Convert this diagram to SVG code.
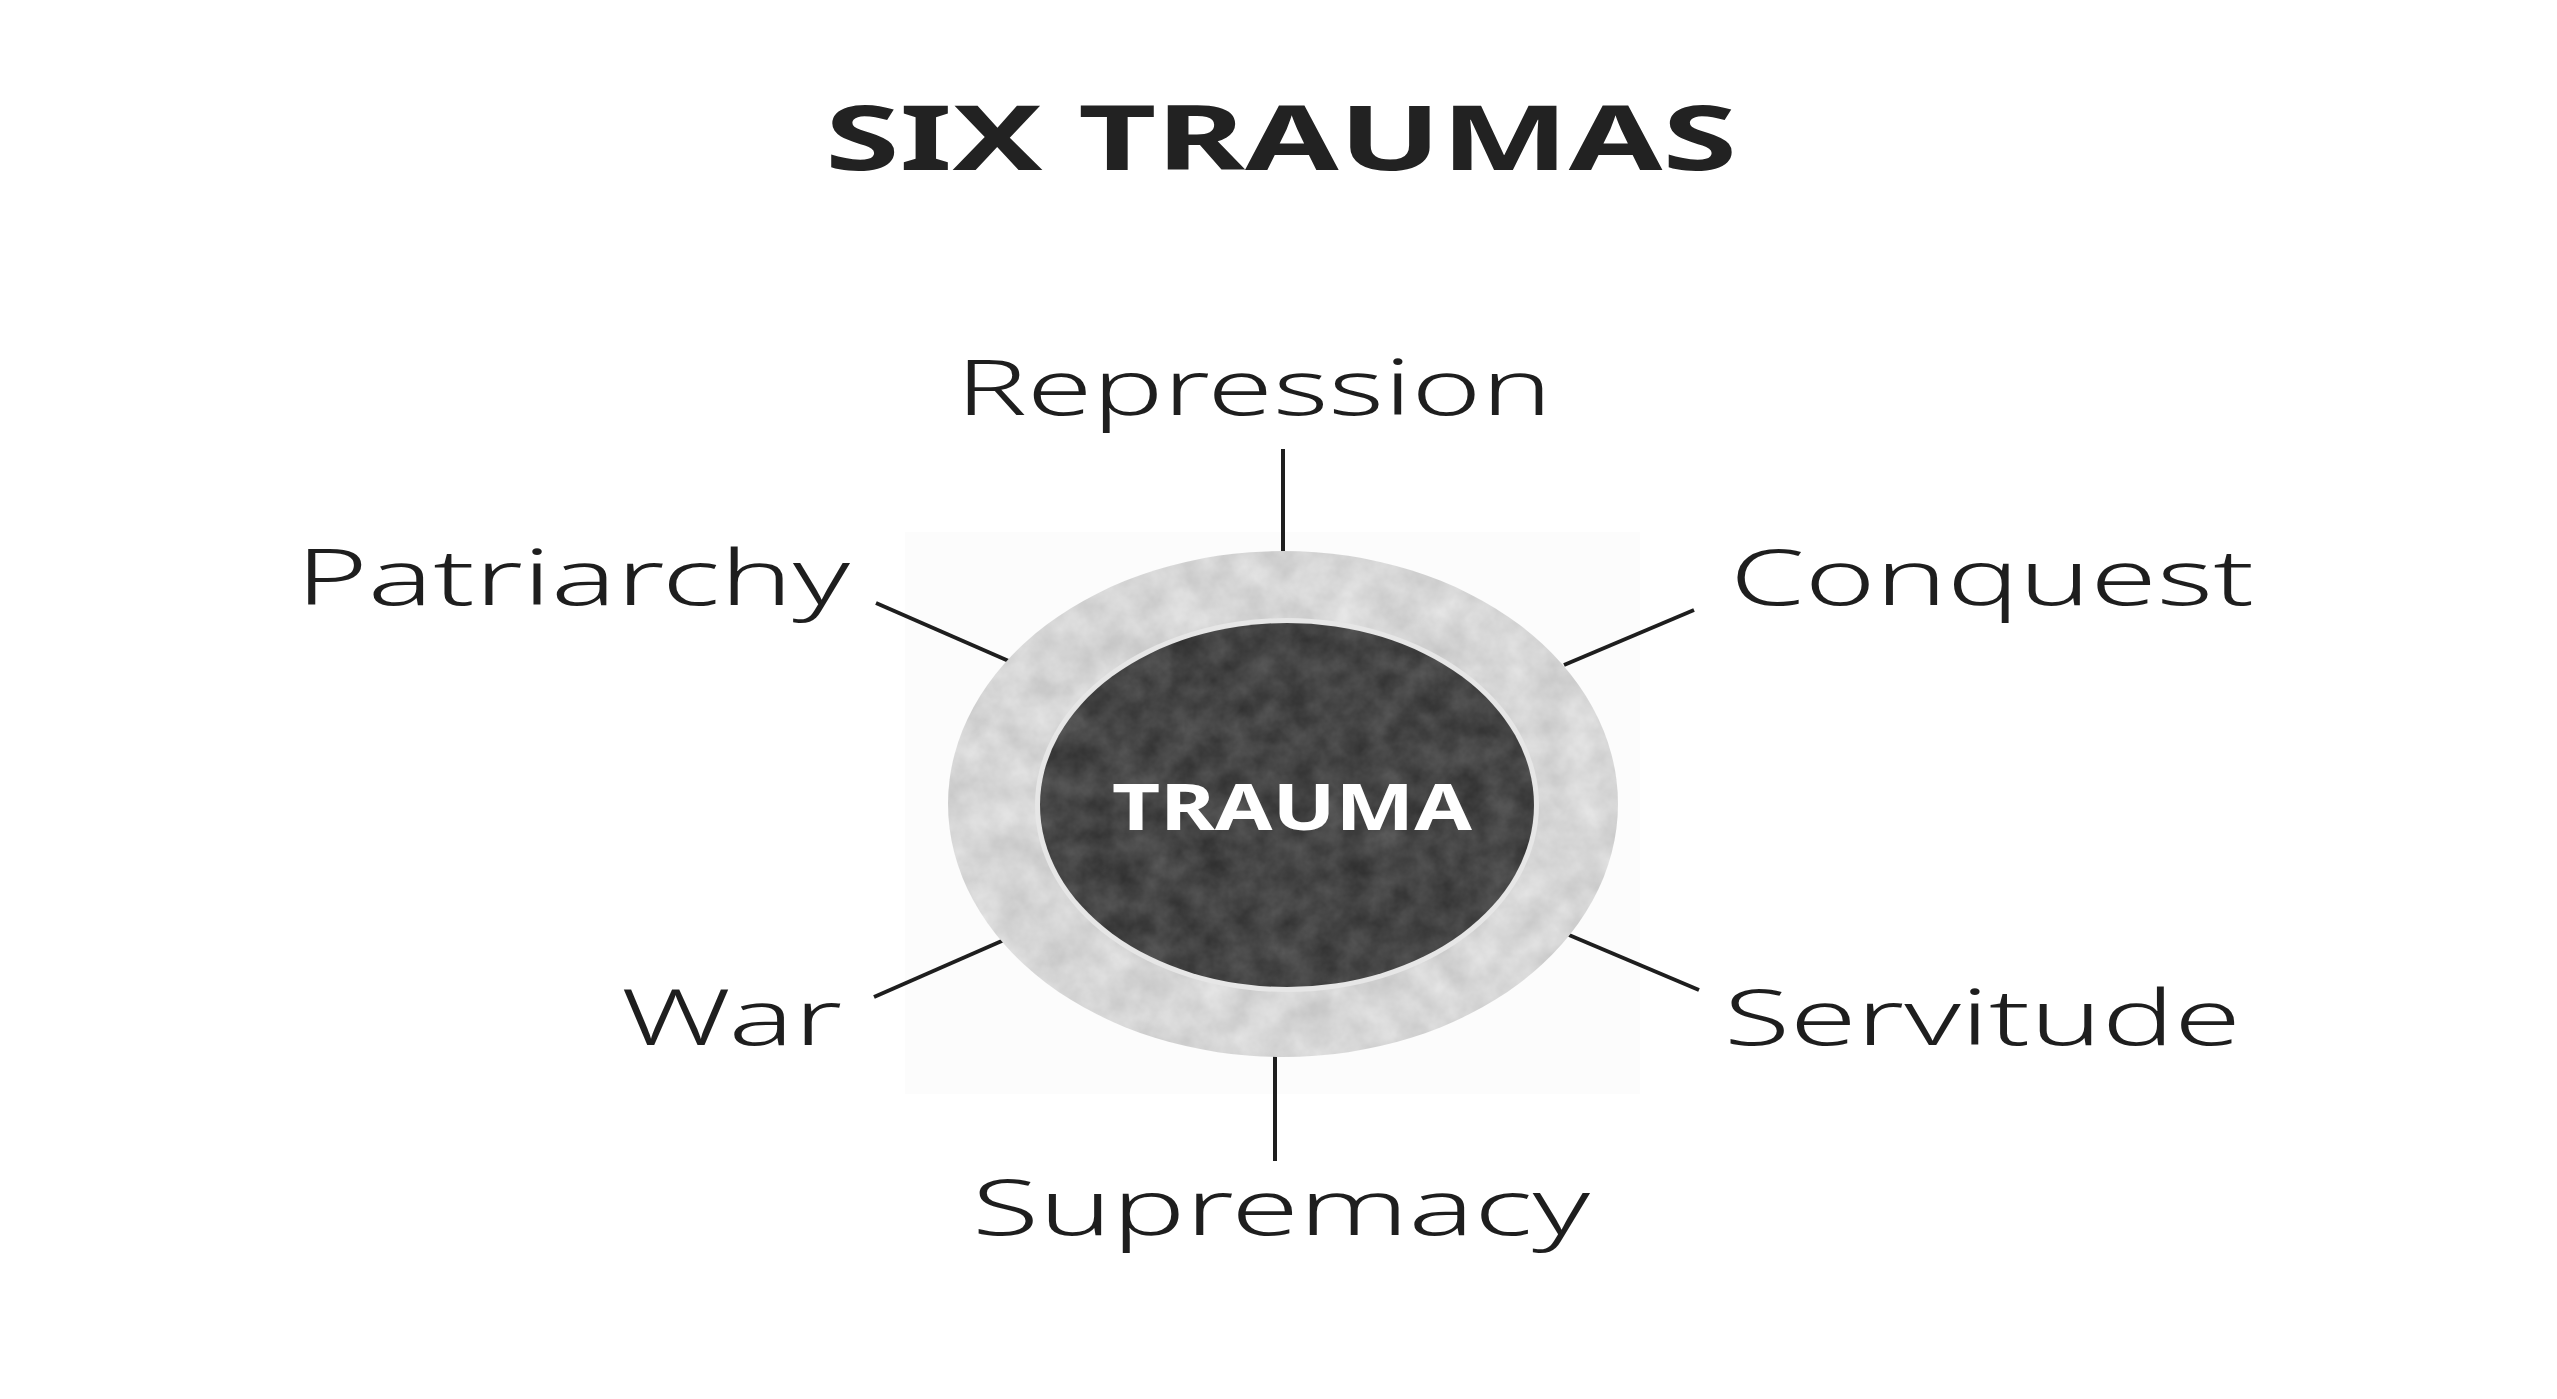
<svg xmlns="http://www.w3.org/2000/svg" width="2557" height="1399" viewBox="0 0 2557 1399">
  <style>
    .label { font-family: "Noto Sans", "Open Sans", "Liberation Sans", sans-serif; font-weight: 300; font-size: 78px; fill: #1e1e1e; }
    .title { font-family: "Noto Sans", "Liberation Sans", sans-serif; font-weight: 700; font-size: 90px; fill: #222222; }
    .core { font-family: "Noto Sans", "Liberation Sans", sans-serif; font-weight: 700; font-size: 64px; fill: #ffffff; }
    .conn { stroke: #1e1e1e; stroke-width: 4; stroke-linecap: butt; fill: none; }
  </style>
  <defs>
    <filter id="mottleLight" x="0" y="0" width="100%" height="100%" color-interpolation-filters="sRGB">
      <feTurbulence type="fractalNoise" baseFrequency="0.03" numOctaves="4" seed="7" result="n"/>
      <feColorMatrix in="n" type="matrix" values="0.16 0 0 0 0.76  0.16 0 0 0 0.76  0.16 0 0 0 0.76  0 0 0 0 1" result="g"/>
      <feComposite in="g" in2="SourceGraphic" operator="in"/>
    </filter>
    <filter id="mottleDark" x="0" y="0" width="100%" height="100%" color-interpolation-filters="sRGB">
      <feTurbulence type="fractalNoise" baseFrequency="0.035" numOctaves="4" seed="11" result="n"/>
      <feColorMatrix in="n" type="matrix" values="0.2 0 0 0 0.17  0.2 0 0 0 0.17  0.2 0 0 0 0.17  0 0 0 0 1" result="g"/>
      <feComposite in="g" in2="SourceGraphic" operator="in"/>
    </filter>
  </defs>
  <rect width="2557" height="1399" fill="#ffffff"/>
  <rect x="905" y="532" width="735" height="562" fill="#fcfcfc"/>

  <g id="title">
    <text class="title" x="825" y="170" textLength="912" lengthAdjust="spacingAndGlyphs">SIX TRAUMAS</text>
  </g>

  <g id="connectors">
    <line class="conn" x1="1283" y1="449" x2="1283" y2="555"/>
    <line class="conn" x1="876" y1="603" x2="1011" y2="662"/>
    <line class="conn" x1="1694" y1="610" x2="1564" y2="665"/>
    <line class="conn" x1="874" y1="997" x2="1004" y2="940"/>
    <line class="conn" x1="1569" y1="935" x2="1699" y2="990"/>
    <line class="conn" x1="1275" y1="1050" x2="1275" y2="1161"/>
  </g>

  <g id="trauma">
    <ellipse cx="1283" cy="804" rx="335" ry="253" fill="#d8d8d8" filter="url(#mottleLight)"/>
    <ellipse cx="1287" cy="805" rx="252" ry="187" fill="#e6e6e6"/>
    <ellipse cx="1287" cy="805" rx="247" ry="182" fill="#444444" filter="url(#mottleDark)"/>
    <text class="core" x="1112" y="830" textLength="360" lengthAdjust="spacingAndGlyphs">TRAUMA</text>
  </g>

  <g id="repression">
    <text class="label" x="956" y="415" textLength="596" lengthAdjust="spacingAndGlyphs">Repression</text>
  </g>
  <g id="patriarchy">
    <text class="label" x="296" y="605" textLength="554" lengthAdjust="spacingAndGlyphs">Patriarchy</text>
  </g>
  <g id="conquest">
    <text class="label" x="1730" y="605" textLength="524" lengthAdjust="spacingAndGlyphs">Conquest</text>
  </g>
  <g id="war">
    <text class="label" x="621" y="1045" textLength="221" lengthAdjust="spacingAndGlyphs">War</text>
  </g>
  <g id="servitude">
    <text class="label" x="1724" y="1045" textLength="517" lengthAdjust="spacingAndGlyphs">Servitude</text>
  </g>
  <g id="supremacy">
    <text class="label" x="972" y="1235" textLength="618" lengthAdjust="spacingAndGlyphs">Supremacy</text>
  </g>
</svg>
